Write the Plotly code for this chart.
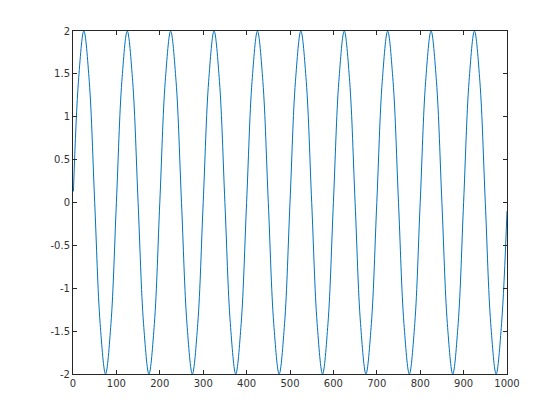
import plotly.graph_objects as go

# Sample values (every 12.5 units along x)
x_vals = [1] + [12.5 * i for i in range(1, 80)] + [1000]
y_vals = [
    0.13, 1.41, 2.0, 1.41, 0.0, -1.41, -2.0, -1.41,
    0.0, 1.41, 2.0, 1.41, 0.0, -1.41, -2.0, -1.41,
    0.0, 1.41, 2.0, 1.41, 0.0, -1.41, -2.0, -1.41,
    0.0, 1.41, 2.0, 1.41, 0.0, -1.41, -2.0, -1.41,
    0.0, 1.41, 2.0, 1.41, 0.0, -1.41, -2.0, -1.41,
    0.0, 1.41, 2.0, 1.41, 0.0, -1.41, -2.0, -1.41,
    0.0, 1.41, 2.0, 1.41, 0.0, -1.41, -2.0, -1.41,
    0.0, 1.41, 2.0, 1.41, 0.0, -1.41, -2.0, -1.41,
    0.0, 1.41, 2.0, 1.41, 0.0, -1.41, -2.0, -1.41,
    0.0, 1.41, 2.0, 1.41, 0.0, -1.41, -2.0, -1.41,
    -0.1,
]

x_ticks = [0, 100, 200, 300, 400, 500, 600, 700, 800, 900, 1000]
x_tick_labels = ["0", "100", "200", "300", "400", "500", "600", "700", "800", "900", "1000"]
y_ticks = [-2, -1.5, -1, -0.5, 0, 0.5, 1, 1.5, 2]
y_tick_labels = ["-2", "-1.5", "-1", "-0.5", "0", "0.5", "1", "1.5", "2"]

fig = go.Figure()
fig.add_trace(go.Scatter(
    x=x_vals, y=y_vals, mode="lines",
    line=dict(color="#0072BD", width=1, shape="spline", smoothing=1.0),
    showlegend=False, hoverinfo="skip",
))

axis_common = dict(
    showgrid=False, zeroline=False, showline=True, mirror="ticks",
    linecolor="#262626", linewidth=1, ticks="inside", ticklen=4,
    tickcolor="#262626", tickwidth=1,
    tickfont=dict(family="DejaVu Sans", size=10, color="#333333"),
)

fig.update_layout(
    width=560, height=420,
    margin=dict(l=73, r=53, t=31, b=46, pad=0),
    paper_bgcolor="white", plot_bgcolor="white",
    xaxis=dict(range=[0, 1000], tickvals=x_ticks, ticktext=x_tick_labels, **axis_common),
    yaxis=dict(range=[-2, 2], tickvals=y_ticks, ticktext=y_tick_labels, **axis_common),
)

fig.write_html("out.html", config={"displayModeBar": False},
               post_script="document.body.style.margin='0';")
